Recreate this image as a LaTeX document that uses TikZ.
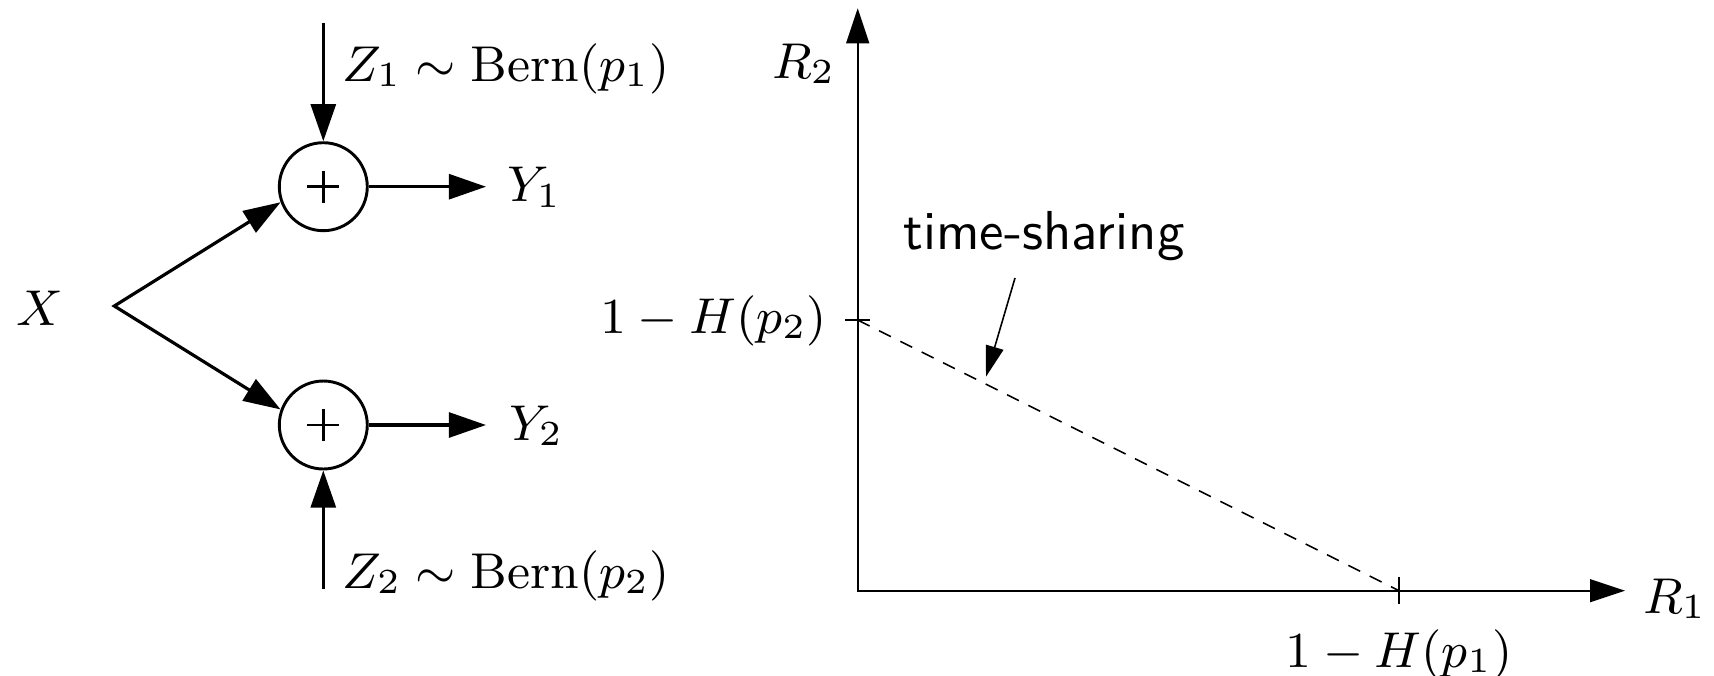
\RequirePackage{fix-cm}
\documentclass[tikz,border=0pt]{standalone}
\usetikzlibrary{arrows.meta}
\begin{document}
\begin{tikzpicture}[x=0.18868pt, y=-0.18868pt,
  thickline/.style={line width=0.6pt},
  bigtip/.style={-{Triangle[length=7pt,width=4.7pt]}},
  axisline/.style={line width=0.35pt},
  adder/.style={circle, draw, line width=0.55pt, inner sep=0pt, minimum size=16.6pt},
  plusline/.style={line width=0.55pt},
  lbl/.style={inner sep=0pt, font=\fontsize{9.5pt}{11pt}\selectfont},
  sanslbl/.style={inner sep=0pt, font=\fontsize{10.35pt}{12pt}\selectfont\sffamily}]
\useasboundingbox (0,0) rectangle (1714,675);

% adders
\node[adder] (c1) at (323.3,186.7) {};
\node[adder] (c2) at (323.3,425) {};
\draw[plusline] (c1.center) +(-16,0) -- +(16,0);
\draw[plusline] (c1.center) +(0,-16) -- +(0,16);
\draw[plusline] (c2.center) +(-16,0) -- +(16,0);
\draw[plusline] (c2.center) +(0,-16) -- +(0,16);

% input X
\node[lbl, anchor=base] (X) at (40,325) {$X$};
\coordinate (br) at (114.3,306);
\draw[thickline, {Triangle[length=7pt,width=4.7pt]}-{Triangle[length=7pt,width=4.7pt]}] (c1.200) -- (br) -- (c2.160);

% noises
\coordinate (z1s) at (323.3,22.7);
\draw[thickline, bigtip] (z1s) -- (c1.north);
\node[lbl, anchor=base west] (z1) at (341,81) {$Z_1 \sim \mathrm{Bern}(p_1)$};
\coordinate (z2s) at (323.3,589);
\draw[thickline, bigtip] (z2s) -- (c2.south);
\node[lbl, anchor=base west] (z2) at (341,588) {$Z_2 \sim \mathrm{Bern}(p_2)$};

% outputs
\coordinate (y1e) at (486,186.7);
\draw[thickline, bigtip] (c1.east) -- (y1e);
\node[lbl, anchor=base west] (y1) at (506,201.7) {$Y_1$};
\coordinate (y2e) at (486,425);
\draw[thickline, bigtip] (c2.east) -- (y2e);
\node[lbl, anchor=base west] (y2) at (508,440) {$Y_2$};

% rate region
\coordinate (O) at (857.7,590.7);
\coordinate (yt) at (857.7,8.3);
\coordinate (xt) at (1625,590.7);
\draw[axisline, {Triangle[length=6.6pt,width=4.3pt]}-{Triangle[length=6.6pt,width=4.3pt]}] (yt) -- (O) -- (xt);
\coordinate (A) at (857.7,320);
\coordinate (B) at (1399,590.7);
\draw[axisline] (A) +(-12.5,0) -- +(12.5,0);
\draw[axisline] (B) +(0,-14) -- +(0,13.3);
\draw[line width=0.3pt, dash pattern=on 2.5pt off 2pt] (A) -- (B);

\node[lbl, anchor=base east] (h2) at (828,333) {$1-H(p_2)$};
\node[lbl, anchor=base] (h1) at (1399,667) {$1-H(p_1)$};
\node[lbl, anchor=base west] (r1) at (1642,613) {$R_1$};
\node[lbl, anchor=base west] (r2) at (771,78) {$R_2$};

\node[sanslbl, anchor=base] (ts) at (1044,249) {time-sharing};
\coordinate (tsa) at (1015,278);
\coordinate (tsb) at (986,376.7);
\draw[line width=0.3pt, -{Triangle[length=5.8pt,width=3.4pt]}] (tsa) -- (tsb);
\end{tikzpicture}
\end{document}
